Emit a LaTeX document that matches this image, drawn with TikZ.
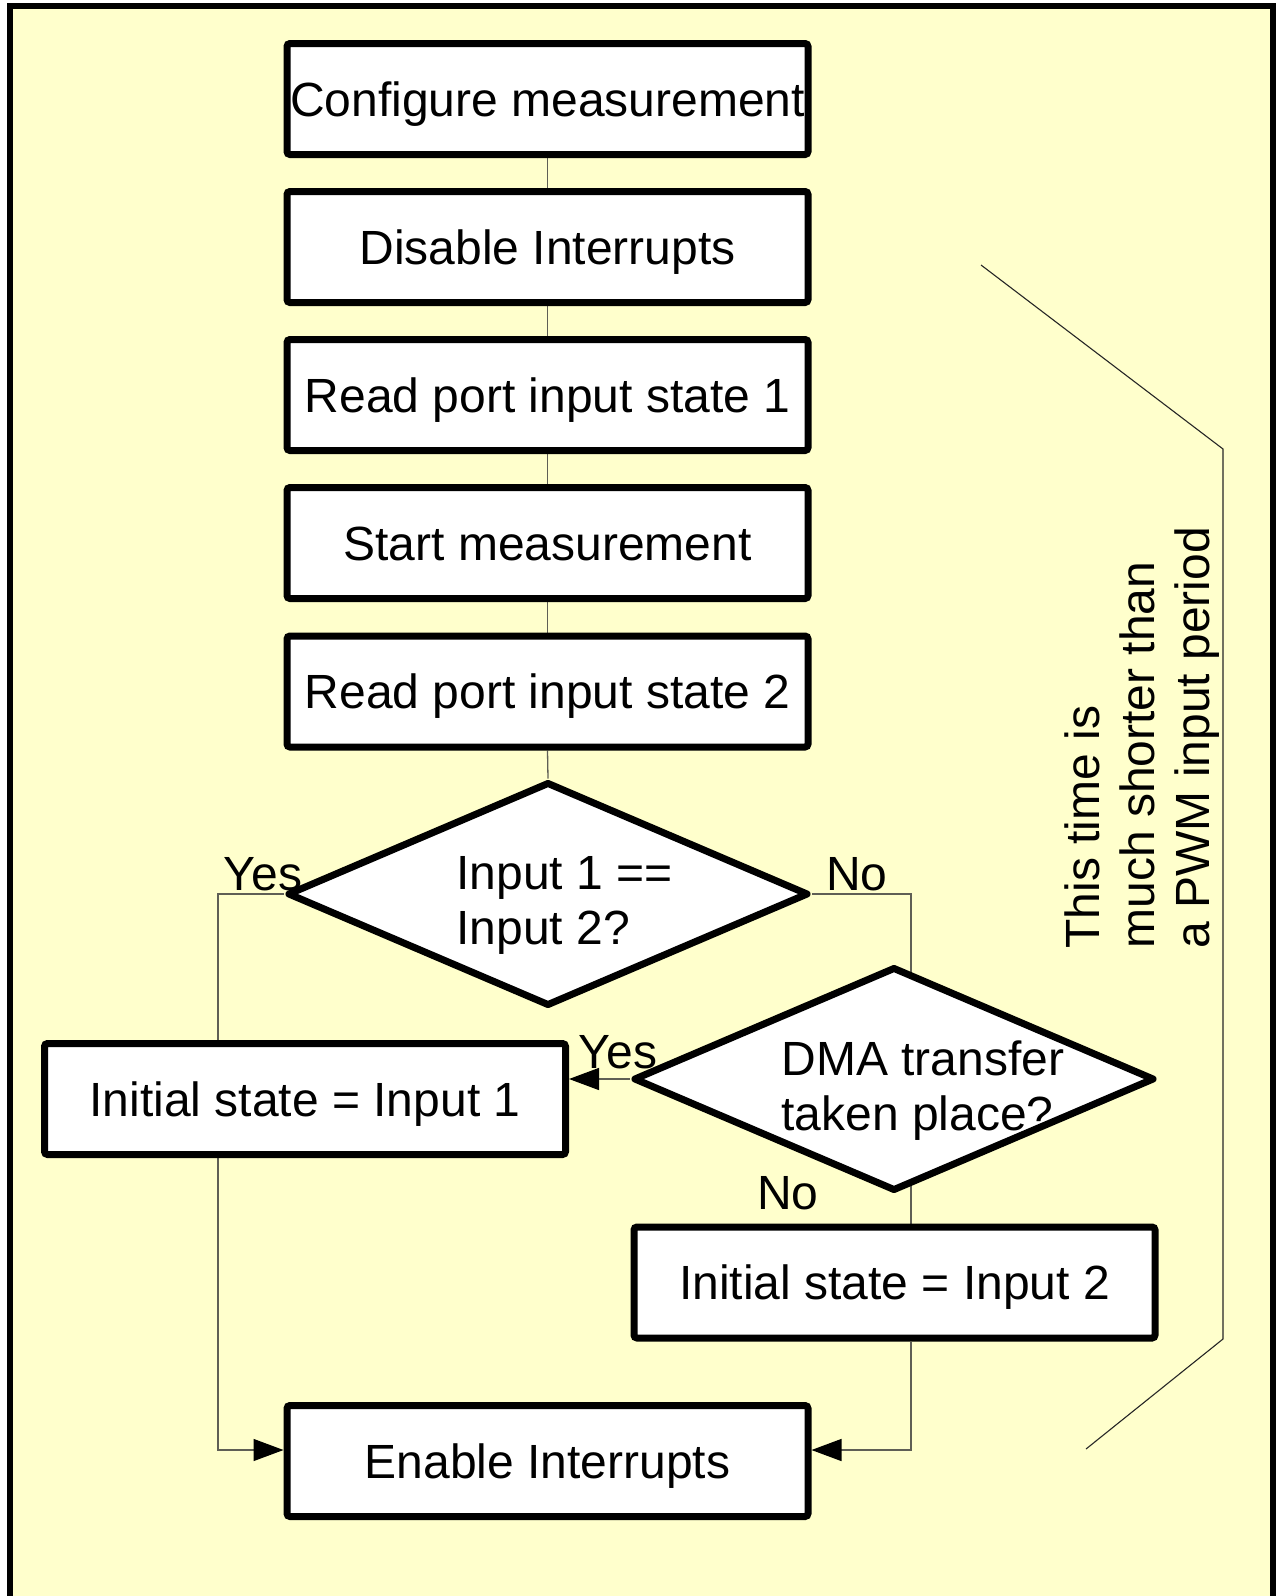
\documentclass[tikz,border=0pt]{standalone}
\usepackage{fontspec}
\setmainfont{Liberation Sans}
\usetikzlibrary{shapes.geometric,arrows.meta}
\pgfdeclarelayer{paper}
\pgfdeclarelayer{wires}
\pgfsetlayers{paper,wires,main}
\definecolor{paperyellow}{RGB}{255,255,204}
\definecolor{wiregray}{RGB}{95,95,85}

\begin{document}
\begin{tikzpicture}[x=0.5pt,y=-0.5pt,
  every node/.style={font=\fontsize{24pt}{27.5pt}\selectfont},
  stepbox/.style={draw, line width=3.5pt, fill=white, rounded corners=1.5pt,
    minimum width=260.5pt, minimum height=55.5pt, inner sep=0pt,
    text height=17pt, text depth=0pt},
  decision/.style={draw, diamond, line width=3.5pt, fill=white, line join=round,
    inner sep=0pt, minimum width=260.5pt, minimum height=112pt},
  wire/.style={draw=wiregray, line width=0.65pt},
  flow/.style={wire, -{Triangle[length=15pt,width=11pt,color=black]}},
  lbl/.style={inner sep=0pt, anchor=base},
  qtext/.style={inner sep=0pt, anchor=west, align=left}
]
\useasboundingbox (0,0) rectangle (1277,1596);

% sheet with its frame
\begin{pgfonlayer}{paper}
  \draw[line width=3pt, fill=paperyellow] (10,6) rectangle (1273,1600);
\end{pgfonlayer}

% process steps
\node[stepbox] (cfg)   at (547.5,99)    {Configure measurement};
\node[stepbox] (dis)   at (547.5,247)   {Disable Interrupts};
\node[stepbox] (rd1)   at (547.5,395)   {Read port input state 1};
\node[stepbox] (start) at (547.5,543)   {Start measurement};
\node[stepbox] (rd2)   at (547.5,691.5) {Read port input state 2};

% decisions
\node[decision] (same) at (548,894) {};
\node[qtext] (sametxt) at (456,905) {Input 1 ==\\Input 2?};
\node[decision] (dma) at (894,1079) {};
\node[qtext] (dmatxt) at (781,1091) {DMA transfer\\taken place?};

% outcomes
\node[stepbox] (init1) at (305,1099)    {Initial state = Input 1};
\node[stepbox] (init2) at (894.5,1282.5) {Initial state = Input 2};
\node[stepbox] (enable) at (547.5,1461) {Enable Interrupts};

% branch labels
\node[lbl] (yes1) at (263,890)  {Yes};
\node[lbl] (no1)  at (857,890)  {No};
\node[lbl] (yes2) at (618,1068) {Yes};
\node[lbl] (no2)  at (788,1209) {No};

% side note
\node[rotate=90, qtext] (note) at (1142,949)
  {This time is\\much shorter than\\a PWM input period};

% routing points
\coordinate (leftrail)  at (218,894);
\coordinate (rightrail) at (911,894);
\coordinate (joinrow)   at (0,1450);

% connectors
\begin{pgfonlayer}{wires}
  \draw[wire] (cfg.south) -- (dis.north);
  \draw[wire] (dis.south) -- (rd1.north);
  \draw[wire] (rd1.south) -- (start.north);
  \draw[wire] (start.south) -- (rd2.north);
  \draw[wire] (rd2.south) -- (same.north);
  \draw[wire] (same.west) -- (leftrail) -- (leftrail |- init1.north);
  \draw[wire] (same.east) -- (rightrail) -- (rightrail |- init2.north);
  \draw[flow] (dma.west) -- (dma.west -| init1.east);
  \draw[flow] (leftrail |- init1.south) |- (enable.west |- joinrow);
  \draw[flow] (rightrail |- init2.south) |- (enable.east |- joinrow);
\end{pgfonlayer}

% bracket spanning the timed section
\draw[draw=black!85, line width=0.55pt, line join=miter]
  (981,265) -- (1223,449) -- (1223,1339) -- (1086,1449);
\end{tikzpicture}
\end{document}
